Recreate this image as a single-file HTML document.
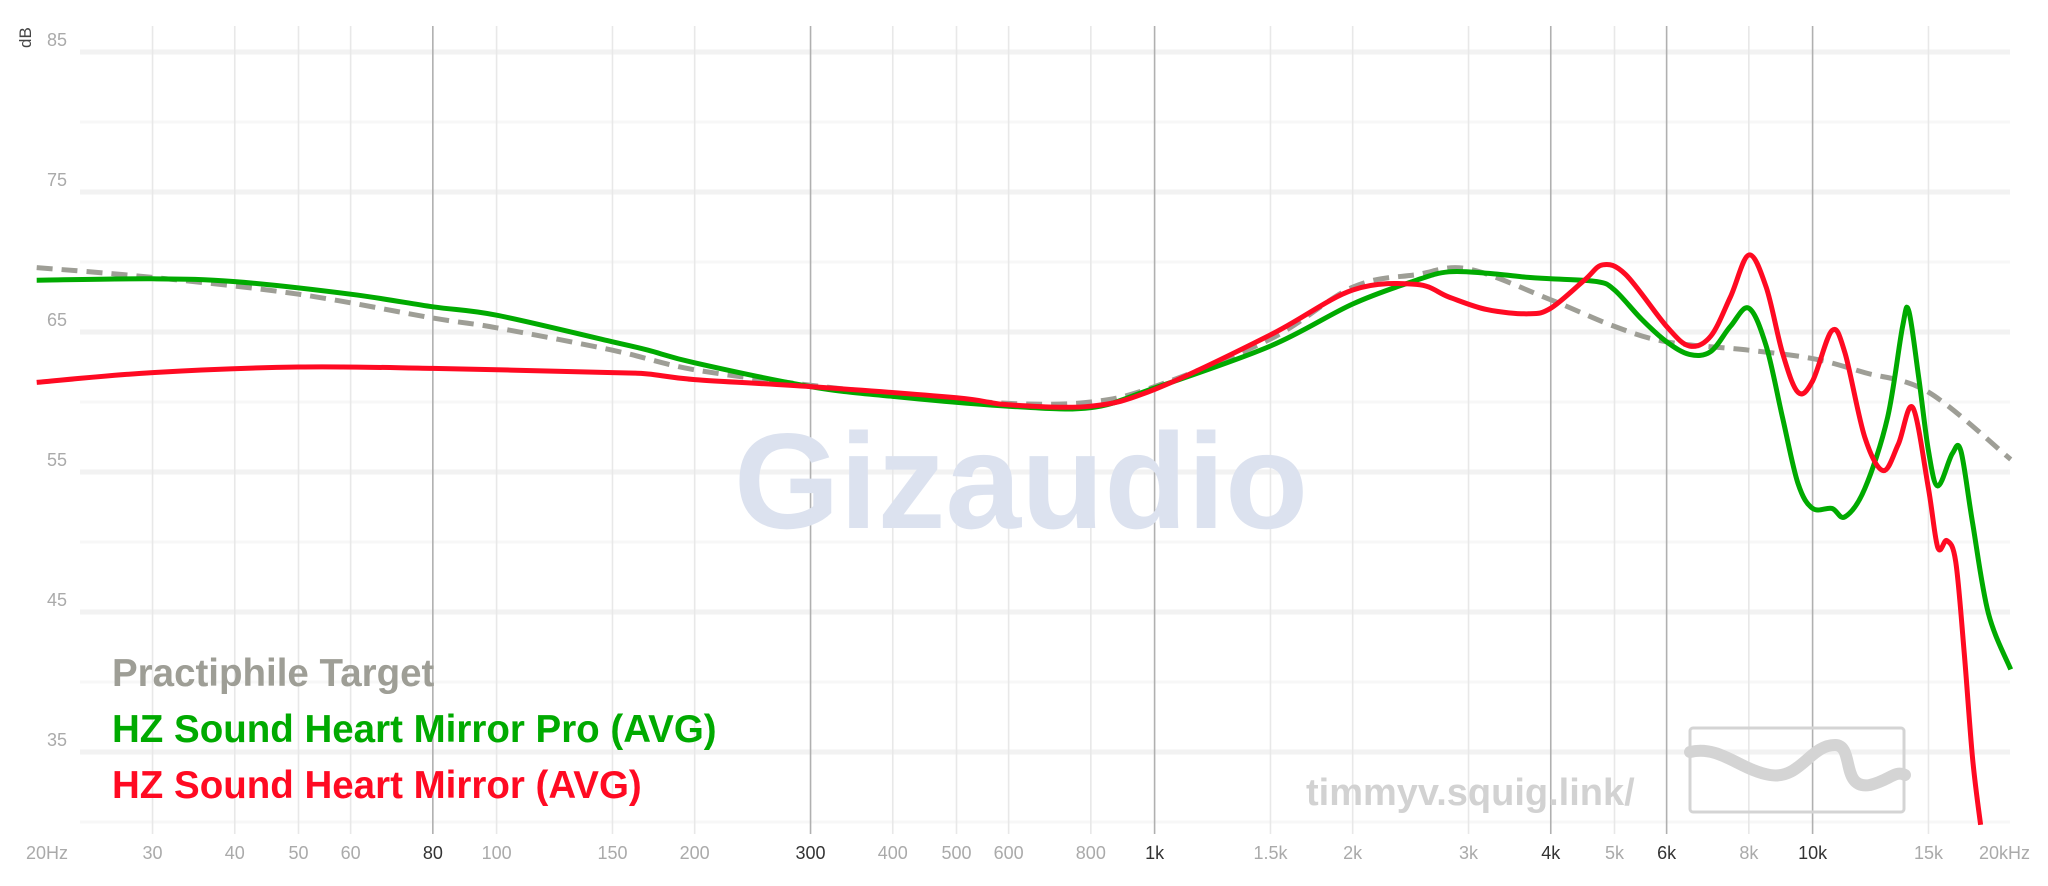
<!DOCTYPE html>
<html><head><meta charset="utf-8"><style>
html,body{margin:0;padding:0;background:#fff;}
svg{display:block;font-family:"Liberation Sans",sans-serif;}
</style></head><body>
<svg id="chart" width="2048" height="886" viewBox="0 0 2048 886" xmlns="http://www.w3.org/2000/svg">
<g id="grid"></g>
<text x="1021" y="528" text-anchor="middle" font-size="136" font-weight="bold" fill="#dce2ef">Gizaudio</text>
<text x="1306" y="805" font-size="38" font-weight="bold" fill="#d2d2d2">timmyv.squig.link/</text>
<g>
<rect x="1690" y="728" width="214" height="84" fill="none" stroke="#d4d4d4" stroke-width="3" rx="3"/>
<path d="M1690 752 C1720 745 1740 770 1770 775 C1800 780 1810 745 1835 745 C1855 745 1840 790 1870 785 C1890 780 1895 770 1905 775" fill="none" stroke="#d4d4d4" stroke-width="12" stroke-linecap="round"/>
</g>
<text transform="translate(31,48) rotate(-90)" font-size="17" fill="#444">dB</text>
<g id="ylabels"></g>
<g id="xlabels"></g>
<g id="series"></g>
<g font-weight="bold" font-size="38.5">
<text x="112" y="686" fill="#9e9e96">Practiphile Target</text>
<text x="112" y="742" fill="#00aa00">HZ Sound Heart Mirror Pro (AVG)</text>
<text x="112" y="798" fill="#ff0a22">HZ Sound Heart Mirror (AVG)</text>
</g>
</svg>
<script>
const xTickFreqs=[20,30,40,50,60,80,100,150,200,300,400,500,600,800,1000,1500,2000,3000,4000,5000,6000,8000,10000,15000,20000];
const xTickLabels=["20Hz","30","40","50","60","80","100","150","200","300","400","500","600","800","1k","1.5k","2k","3k","4k","5k","6k","8k","10k","15k","20kHz"];
const xTickStrong=[80,300,1000,4000,6000,10000];
const yTicks=[85,75,65,55,45,35];
const yGrid=[85,80,75,70,65,60,55,50,45,40,35,30];
const targetF=[20,30,50,80,100,150,200,300,400,600,800,1000,1500,2000,2500,3000,4000,5000,6000,8000,10000,12000,15000,20000];
const targetDb=[69.6,68.9,67.7,66,65.3,63.7,62.3,61.2,60.6,59.9,60,61.1,64.5,68.2,69.1,69.5,67.3,65.4,64.3,63.7,63.1,62.1,60.7,55.9];
const proF=[20,30,40,60,80,100,150,170,200,300,400,600,800,1000,1500,2000,2500,2800,3200,3700,4000,4700,5000,5500,6000,6500,7000,7500,8000,8500,9000,9500,10000,10700,11200,12000,13000,13700,14000,14500,15000,15500,16300,16800,17500,18500,20000];
const proDb=[68.7,68.8,68.6,67.7,66.8,66.2,64.3,63.7,62.8,61.1,60.4,59.7,59.6,61,64,67,68.7,69.3,69.2,68.9,68.8,68.6,68,65.9,64.3,63.4,63.6,65.4,66.7,64,58.9,54.2,52.4,52.4,51.8,53.8,58.9,65.4,66.5,61.7,56.5,54,56.3,56.5,51.4,44.9,40.9];
const mirF=[20,30,50,80,150,170,200,300,500,600,800,1000,1500,2000,2500,2800,3200,3700,4000,4500,4800,5200,6000,6500,7000,7500,8000,8500,9000,9500,10000,10700,11200,12000,12800,13500,14200,15000,15500,16000,16500,17000,17500,18000];
const mirDb=[61.4,62.1,62.5,62.4,62.1,62,61.6,61.1,60.3,59.8,59.7,60.9,64.8,68,68.4,67.5,66.6,66.3,66.7,68.7,69.8,69.1,65.4,64,64.7,67.5,70.5,68.2,63.5,60.7,61.5,65.1,63.5,57.5,55.1,57,59.6,53.8,49.6,50.1,48.6,42.1,34.6,29.8];
const NS='http://www.w3.org/2000/svg';
function xs(f){return 1154.6+658*Math.log10(f/1000);}
function ys(d){return 52+(85-d)*14;}
function mk(t,a,p){const e=document.createElementNS(NS,t);for(const k in a)e.setAttribute(k,a[k]);p.appendChild(e);return e;}
const grid=document.getElementById('grid');
yGrid.forEach(d=>{
 const l=mk('line',{x1:80,x2:2010,y1:ys(d),y2:ys(d),stroke:d%10===5?'#f2f2f2':'#f7f7f7','stroke-width':d%10===5?5:3},grid);
 
 
});
xTickFreqs.forEach((f,i)=>{
 const s=xTickStrong.includes(f);
 if(f!==20&&f!==20000){
 const l=mk('line',{x1:xs(f),x2:xs(f),y1:26,y2:834,stroke:s?'#b0b0b0':'#e8e8e8','stroke-width':s?1.6:1.6},grid);
 
 
 }
 const anc=f===20?'start':(f===20000?'end':'middle');
 const xx=f===20?26:(f===20000?2030:xs(f));
 const t=mk('text',{x:xx,y:859,'text-anchor':anc,'font-size':18,fill:s?'#333':'#aaa'},document.getElementById('xlabels'));
 t.textContent=xTickLabels[i];
 
 
});
yTicks.forEach(d=>{
 const t=mk('text',{x:47,y:ys(d)-6,'font-size':18,fill:'#aaa'},document.getElementById('ylabels'));
 t.textContent=d;
 
 
});
function path(F,D){
 const P=F.map((f,i)=>[xs(f),ys(D[i])]);
 let d='M'+P[0][0].toFixed(1)+' '+P[0][1].toFixed(1);
 for(let i=0;i<P.length-1;i++){
  const p0=P[i-1]||P[i],p1=P[i],p2=P[i+1],p3=P[i+2]||P[i+1];
  const c1=[p1[0]+(p2[0]-p0[0])/6,p1[1]+(p2[1]-p0[1])/6];
  const c2=[p2[0]-(p3[0]-p1[0])/6,p2[1]-(p3[1]-p1[1])/6];
  d+=` C${c1[0].toFixed(1)} ${c1[1].toFixed(1)} ${c2[0].toFixed(1)} ${c2[1].toFixed(1)} ${p2[0].toFixed(1)} ${p2[1].toFixed(1)}`;
 }
 return d;
}
const sg=document.getElementById('series');
const t1=mk('path',{d:path(targetF,targetDb),fill:'none',stroke:'#9e9e96','stroke-width':5,'stroke-dasharray':'16 9'},sg);


const t2=mk('path',{d:path(proF,proDb),fill:'none',stroke:'#00aa00','stroke-width':5},sg);


const t3=mk('path',{d:path(mirF,mirDb),fill:'none',stroke:'#ff0a22','stroke-width':5},sg);


</script>
</body></html>
